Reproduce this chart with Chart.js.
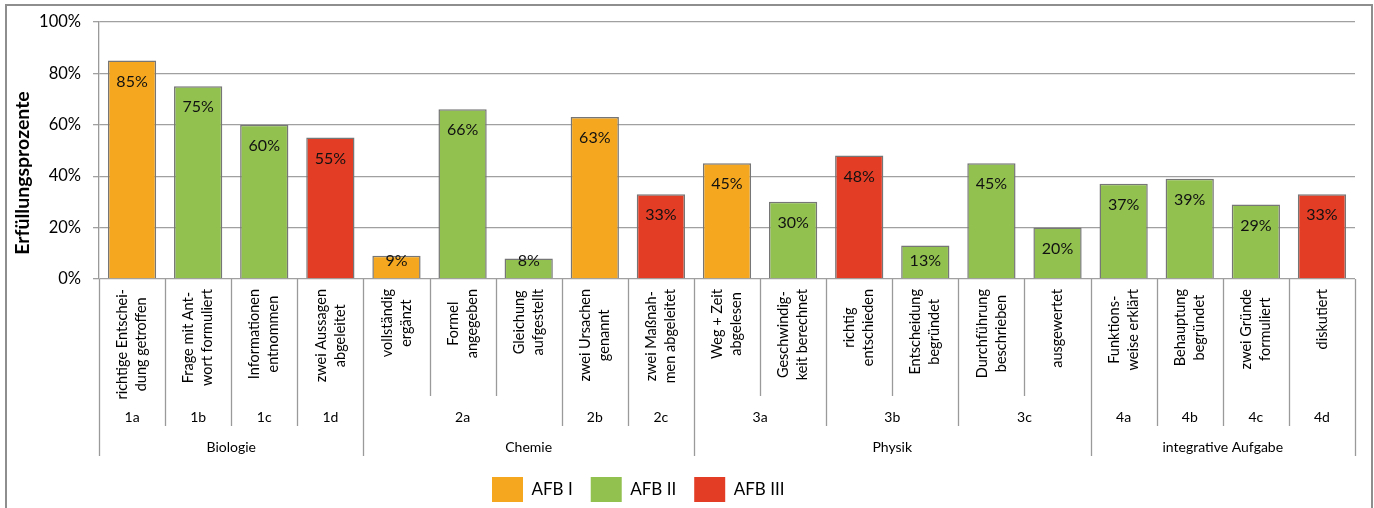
<!DOCTYPE html>
<html>
<head>
<meta charset="utf-8">
<script src="https://cdn.jsdelivr.net/npm/chart.js@4.4.1/dist/chart.umd.min.js"></script>
<style>
  html, body { margin: 0; height: 508px; overflow: hidden; background: #fff; }
  #frame { position: absolute; left: 5px; top: 4px; width: 1368px; height: 620px; border: 2px solid #8e8e8e; box-sizing: border-box; }
  #wrap { position: absolute; left: 0; top: 0; width: 1374px; height: 508px; }
</style>
</head>
<body>
<div id="frame"></div>
<div id="wrap"><canvas id="chart" width="1374" height="508"></canvas></div>
<script>
// one entry per bar
const itemLabels = [
    ['richtige Entschei-', 'dung getroffen'],
    ['Frage mit Ant-', 'wort formuliert'],
    ['Informationen', 'entnommen'],
    ['zwei Aussagen', 'abgeleitet'],
    ['vollständig', 'ergänzt'],
    ['Formel', 'angegeben'],
    ['Gleichung', 'aufgestellt'],
    ['zwei Ursachen', 'genannt'],
    ['zwei Maßnah-', 'men abgeleitet'],
    ['Weg + Zeit', 'abgelesen'],
    ['Geschwindig-', 'keit berechnet'],
    ['richtig', 'entschieden'],
    ['Entscheidung', 'begründet'],
    ['Durchführung', 'beschrieben'],
    ['ausgewertet'],
    ['Funktions-', 'weise erklärt'],
    ['Behauptung', 'begründet'],
    ['zwei Gründe', 'formuliert'],
    ['diskutiert']
];
const values = [85, 75, 60, 55, 9, 66, 8, 63, 33, 45, 30, 48, 13, 45, 20, 37, 39, 29, 33];
const afbLevel = [1, 2, 2, 3, 1, 2, 2, 1, 3, 1, 2, 3, 2, 2, 2, 2, 2, 2, 3];

// task numbers and how many bars each spans
const tasks = ['1a', '1b', '1c', '1d', '2a', '2b', '2c', '3a', '3b', '3c', '4a', '4b', '4c', '4d'];
const taskSpans = [1, 1, 1, 1, 3, 1, 1, 2, 2, 2, 1, 1, 1, 1];

// subjects and how many bars each spans
const subjects = ['Biologie', 'Chemie', 'Physik', 'integrative Aufgabe'];
const subjectSpans = [4, 5, 6, 4];

const afbNames = ['AFB I', 'AFB II', 'AFB III'];
const afbColors = ['#F5A81F', '#92C150', '#E43D26'];

const yTicks = [0, 20, 40, 60, 80, 100];
const yTitle = 'Erfüllungsprozente';

const FONT = 'Lato, "Open Sans", sans-serif';
Chart.defaults.font.family = FONT;
Chart.defaults.color = '#000';

const datasets = afbNames.map((name, k) => ({
    label: name,
    data: values.map((v, i) => afbLevel[i] === k + 1 ? v : null),
    backgroundColor: afbColors[k],
    borderColor: '#767676',
    borderWidth: 1.5,
    borderSkipped: 'bottom',
    categoryPercentage: 1,
    barPercentage: 0.73,
    grouped: false
}));

// percent labels inside the top of each bar
const barLabels = {
    id: 'barLabels',
    afterDatasetsDraw(chart) {
        const ctx = chart.ctx;
        ctx.save();
        ctx.font = '16px ' + FONT;
        ctx.fillStyle = '#111';
        ctx.textAlign = 'center';
        ctx.textBaseline = 'middle';
        chart.data.datasets.forEach((ds, d) => {
            chart.getDatasetMeta(d).data.forEach((bar, i) => {
                if (ds.data[i] == null) return;
                const y = Math.min(bar.y + 21, bar.base - 18);
                ctx.fillText(ds.data[i] + '%', bar.x, y);
            });
        });
        ctx.restore();
    }
};

// three-level category axis below the plot, plus the y title
const categoryAxis = {
    id: 'categoryAxis',
    afterDraw(chart) {
        const ctx = chart.ctx;
        const x = chart.scales.x;
        const area = chart.chartArea;
        const n = itemLabels.length;
        const step = (area.right - area.left) / n;
        const edge = i => area.left + step * i;

        ctx.save();
        ctx.strokeStyle = '#9a9a9a';
        ctx.lineWidth = 1.3;

        // which boundaries belong to tasks / subjects
        const taskEdges = new Set([0]);
        let acc = 0;
        taskSpans.forEach(s => { acc += s; taskEdges.add(acc); });
        const subjEdges = new Set([0]);
        acc = 0;
        subjectSpans.forEach(s => { acc += s; subjEdges.add(acc); });

        for (let i = 0; i <= n; i++) {
            let end = 396;
            if (subjEdges.has(i)) end = 456;
            else if (taskEdges.has(i)) end = 426;
            const px = Math.round(edge(i)) + 0.5;
            ctx.beginPath();
            ctx.moveTo(px, area.bottom);
            ctx.lineTo(px, end);
            ctx.stroke();
        }

        // rotated item labels
        ctx.fillStyle = '#000';
        ctx.font = '14.5px ' + FONT;
        ctx.textAlign = 'center';
        ctx.textBaseline = 'middle';
        itemLabels.forEach((lines, i) => {
            const cx = x.getPixelForValue(i);
            const maxW = Math.max(...lines.map(l => ctx.measureText(l).width));
            const cy = 289 + maxW / 2;
            ctx.save();
            ctx.translate(cx, cy);
            ctx.rotate(-Math.PI / 2);
            lines.forEach((l, j) => {
                ctx.fillText(l, 0, (j - (lines.length - 1) / 2) * 19);
            });
            ctx.restore();
        });

        // task row
        ctx.font = '14px ' + FONT;
        let start = 0;
        tasks.forEach((t, k) => {
            const mid = (edge(start) + edge(start + taskSpans[k])) / 2;
            ctx.fillText(t, mid, 417);
            start += taskSpans[k];
        });

        // subject row
        start = 0;
        subjects.forEach((s, k) => {
            const mid = (edge(start) + edge(start + subjectSpans[k])) / 2;
            ctx.fillText(s, mid, 447);
            start += subjectSpans[k];
        });

        // y axis title, sits a bit below the plot centre like in the original
        ctx.font = 'bold 19.5px ' + FONT;
        ctx.translate(23, 173);
        ctx.rotate(-Math.PI / 2);
        ctx.fillText(yTitle, 0, 0);
        ctx.restore();
    }
};

// shift the legend so it starts where the original one does
const legendPlace = {
    id: 'legendPlace',
    beforeDraw(chart) {
        const lg = chart.legend;
        const pad = lg.options.labels.padding;
        const h = lg.height;
        lg.left = 492 - pad;
        lg.right = chart.width;
        lg.top = 477 - pad;
        lg.bottom = lg.top + h;
    }
};

new Chart(document.getElementById('chart'), {
    type: 'bar',
    data: {
        labels: itemLabels.map(l => l.join(' ')),
        datasets: datasets
    },
    options: {
        responsive: false,
        animation: false,
        layout: { padding: { left: 0, right: 19, top: 21, bottom: 0 } },
        plugins: {
            tooltip: { enabled: false },
            legend: {
                position: 'bottom',
                align: 'start',
                labels: {
                    boxWidth: 31,
                    boxHeight: 25,
                    padding: 18,
                    color: '#000',
                    font: { size: 17 },
                    generateLabels(chart) {
                        return Chart.defaults.plugins.legend.labels.generateLabels(chart).map(item => {
                            item.lineWidth = 0;
                            item.strokeStyle = item.fillStyle;
                            return item;
                        });
                    }
                }
            }
        },
        scales: {
            x: {
                grid: { display: false },
                border: { display: false },
                ticks: { display: false },
                afterFit(scale) {
                    const lg = scale.chart.legend;
                    scale.height = 229 - (lg ? lg.height : 0);
                }
            },
            y: {
                min: 0,
                max: 100,
                afterBuildTicks(scale) { scale.ticks = yTicks.map(v => ({ value: v })); },
                afterFit(scale) { scale.width = 99; },
                ticks: {
                    padding: 12,
                    font: { size: 16.5 },
                    color: '#000',
                    callback: v => v + '%'
                },
                grid: { color: '#a0a0a0', lineWidth: 1.3, tickLength: 6 },
                border: { color: '#9a9a9a', width: 1.3 }
            }
        }
    },
    plugins: [barLabels, categoryAxis, legendPlace]
});
</script>
</body>
</html>
